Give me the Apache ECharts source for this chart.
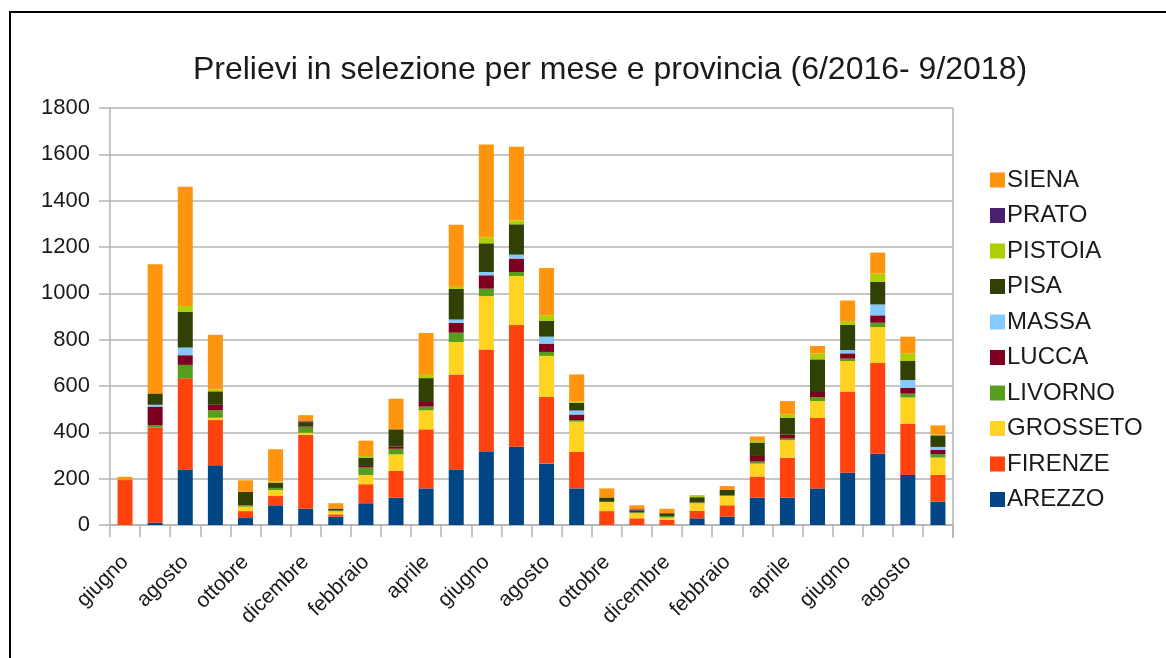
<!DOCTYPE html>
<html>
<head>
<meta charset="utf-8">
<script src="https://cdn.jsdelivr.net/npm/echarts@6/dist/echarts.min.js"></script>
<style>
  html, body { margin: 0; padding: 0; background: #fff; }
  #frame {
    position: absolute; left: 9px; top: 11px;
    width: 1200px; height: 700px;
    border-left: 2px solid #000; border-top: 2px solid #000;
  }
  #chart { position: absolute; left: 0; top: 0; width: 1166px; height: 658px; }
</style>
</head>
<body>
<div id="frame"></div>
<div id="chart"></div>
<script>
// mesi 6/2016 - 9/2018
const months = [
  'giugno', 'luglio', 'agosto', 'settembre', 'ottobre', 'novembre', 'dicembre',
  'gennaio', 'febbraio', 'marzo', 'aprile', 'maggio', 'giugno', 'luglio', 'agosto', 'settembre',
  'ottobre', 'novembre', 'dicembre', 'gennaio', 'febbraio', 'marzo', 'aprile', 'maggio',
  'giugno', 'luglio', 'agosto', 'settembre'
]

const arezzo   = [0, 10, 240, 258, 30, 85, 70, 36, 94, 118, 158, 240, 315, 338, 265, 158, 0, 0, 0, 29, 36, 118, 118, 158, 226, 308, 216, 101]
const firenze  = [194, 410, 393, 195, 30, 40, 319, 10, 82, 115, 255, 410, 443, 525, 288, 157, 60, 29, 22, 32, 49, 91, 173, 304, 350, 391, 222, 115]
const grosseto = [0, 0, 0, 10, 19, 26, 9, 13, 40, 72, 82, 140, 230, 212, 177, 131, 40, 22, 10, 33, 40, 56, 75, 73, 132, 155, 112, 75]
const livorno  = [0, 10, 58, 32, 6, 9, 23, 3, 32, 24, 16, 40, 32, 17, 17, 7, 0, 3, 7, 3, 3, 9, 7, 17, 10, 19, 17, 14]
const lucca    = [0, 81, 42, 24, 0, 0, 4, 0, 7, 9, 24, 43, 58, 58, 36, 24, 0, 0, 0, 0, 0, 24, 17, 22, 23, 32, 26, 19]
const massa    = [0, 8, 33, 0, 0, 0, 0, 0, 0, 0, 0, 14, 14, 17, 30, 17, 0, 0, 0, 0, 0, 0, 0, 0, 14, 47, 33, 13]
const pisa     = [0, 49, 155, 58, 58, 23, 19, 9, 36, 75, 99, 132, 124, 131, 68, 33, 19, 8, 12, 23, 23, 58, 73, 141, 109, 98, 82, 50]
const pistoia  = [0, 0, 24, 8, 0, 4, 0, 0, 7, 0, 14, 9, 26, 17, 24, 6, 0, 0, 0, 9, 0, 7, 14, 26, 16, 35, 33, 3]
const prato    = [0, 0, 0, 0, 0, 0, 4, 0, 0, 0, 0, 0, 0, 0, 0, 0, 0, 6, 0, 0, 0, 0, 0, 0, 0, 0, 0, 0]
const siena    = [14, 558, 515, 236, 50, 140, 26, 23, 66, 132, 181, 268, 400, 318, 204, 117, 39, 17, 19, 0, 17, 19, 58, 32, 89, 91, 72, 40]

const yTicks = [0, 200, 400, 600, 800, 1000, 1200, 1400, 1600, 1800]

const provinces = [
  { name: 'AREZZO', data: arezzo, color: '#004586' },
  { name: 'FIRENZE', data: firenze, color: '#ff420e' },
  { name: 'GROSSETO', data: grosseto, color: '#ffd320' },
  { name: 'LIVORNO', data: livorno, color: '#579d1c' },
  { name: 'LUCCA', data: lucca, color: '#7e0021' },
  { name: 'MASSA', data: massa, color: '#83caff' },
  { name: 'PISA', data: pisa, color: '#314004' },
  { name: 'PISTOIA', data: pistoia, color: '#aecf00' },
  { name: 'PRATO', data: prato, color: '#4b1f6f' },
  { name: 'SIENA', data: siena, color: '#ff950e' },
]

const chart = echarts.init(document.getElementById('chart'))

const font = 'Liberation Sans, Arial, sans-serif'

const option = {
  animation: false,
  textStyle: { fontFamily: font },
  title: {
    text: 'Prelievi in selezione per mese e provincia (6/2016- 9/2018)',
    left: 605,
    textAlign: 'center',
    top: 49,
    textStyle: { fontSize: 32, fontWeight: 'normal', color: '#1a1a1a', fontFamily: font }
  },
  legend: {
    data: provinces.map(p => p.name).reverse(),
    orient: 'vertical',
    left: 985,
    top: 163,
    itemWidth: 15,
    itemHeight: 15,
    itemGap: 11.5,
    icon: 'rect',
    textStyle: { fontSize: 24, color: '#1a1a1a', fontFamily: font, padding: [0, 0, 0, -3] }
  },
  grid: {
    left: 110,
    right: 213,
    top: 108,
    bottom: 133,
    containLabel: false
  },
  xAxis: {
    type: 'category',
    data: months,
    axisLine: { lineStyle: { color: '#b3b3b3', width: 1.5 } },
    axisTick: { show: true, interval: 0, length: 12, lineStyle: { color: '#b3b3b3', width: 1.5 } },
    axisLabel: {
      interval: 1,
      rotate: 45,
      fontSize: 21,
      color: '#1a1a1a',
      margin: 34,
      fontFamily: font
    },
    splitLine: { show: false }
  },
  yAxis: {
    type: 'value',
    min: yTicks[0],
    max: yTicks[yTicks.length - 1],
    interval: 200,
    axisLine: { show: true, lineStyle: { color: '#b3b3b3', width: 1.5 } },
    axisTick: { show: true, length: 11, inside: false, lineStyle: { color: '#b3b3b3', width: 1.5 } },
    axisLabel: { fontSize: 22, color: '#1a1a1a', margin: 20, fontFamily: font, formatter: v => String(v) },
    splitLine: { show: true, lineStyle: { color: '#b3b3b3', width: 1.5 } }
  },
  series: provinces.map(p => ({
    name: p.name,
    type: 'bar',
    stack: 'tot',
    data: p.data,
    barWidth: 15,
    itemStyle: { color: p.color }
  }))
}

chart.setOption(option)

// right border of the plot area
chart.setOption({
  graphic: [{
    type: 'line',
    shape: { x1: 953, y1: 108, x2: 953, y2: 538 },
    style: { stroke: '#b3b3b3', lineWidth: 1.5 }
  }]
})
</script>
</body>
</html>
